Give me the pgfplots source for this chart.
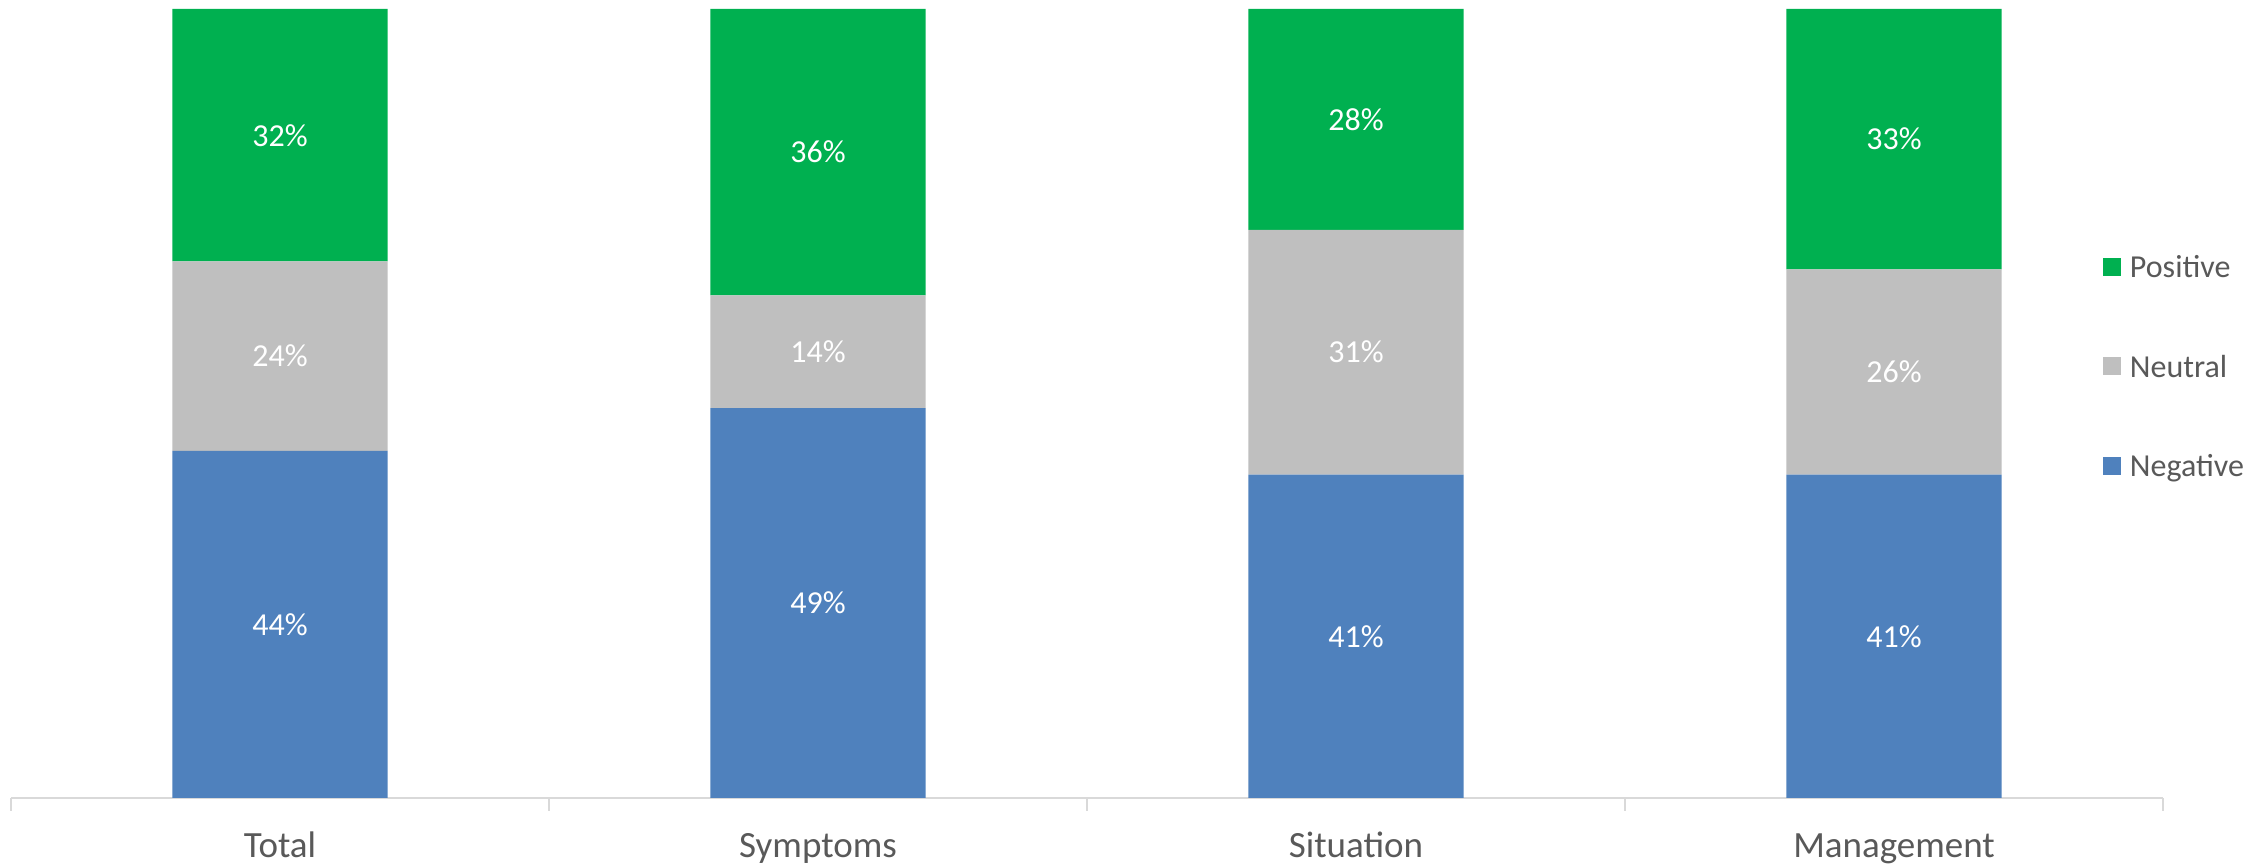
\documentclass[border=0pt]{standalone}
\usepackage{fontspec}
\setmainfont{Carlito}
\usepackage{pgfplots}
\usepackage{pgfplotstable}
\pgfplotsset{compat=1.18}

\definecolor{posgreen}{HTML}{00B050}
\definecolor{neugray}{HTML}{BFBFBF}
\definecolor{negblue}{HTML}{4F81BD}
\definecolor{axisgray}{HTML}{D9D9D9}
\definecolor{textgray}{HTML}{595959}

% share of responses per category, in percent
\pgfplotstableread{
x neg  neu  pos
0 44   24   32
1 49.4 14.3 36.3
2 41   31   28
3 41   26   33
}\sentiment

\pgfplotsset{
  sq legend/.style={legend image code/.code={\fill[##1] (0pt,-4.5pt) rectangle (9pt,4.5pt);}},
  seg labels/.style={
    nodes near coords={\pgfmathprintnumber[fixed,precision=0,assume math mode=true]{\segval}\%},
    visualization depends on={\thisrow{#1}\as\segval},
    every node near coord/.append style={anchor=center, text=white,
      font=\fontsize{16}{19}\selectfont},
  },
}

\begin{document}
\begin{tikzpicture}
\path[use as bounding box] (-5.5pt,-34pt) rectangle (1125pt,399pt);
\begin{axis}[
  at={(0,0)}, anchor=south west,
  scale only axis, width=1076pt, height=394.5pt,
  ybar stacked, bar width=107.5pt,
  xmin=-0.5, xmax=3.5, ymin=0, ymax=100,
  axis y line=none,
  axis x line*=bottom,
  x axis line style={-, axisgray, line width=1pt},
  xtick={0,1,2,3},
  xticklabels={Total,Symptoms,Situation,Management},
  minor xtick={-0.5,0.5,1.5,2.5,3.5},
  major tick length=0pt,
  minor tick length=6.5pt,
  tick align=outside,
  every minor tick/.style={axisgray, line width=1pt},
  xticklabel style={anchor=base, inner sep=0pt, yshift=-30pt,
    font=\fontsize{18.5}{22}\selectfont, text=textgray},
  reverse legend,
  legend cell align=left,
  legend style={at={(0.9721,0.687)}, anchor=north west,
    draw=none, fill=none, inner sep=0pt, outer sep=0pt,
    /tikz/row sep=38.75pt, /tikz/column sep=4.5pt,
    font=\fontsize{16}{19}\selectfont, text=textgray,
    nodes={inner sep=0pt, text height=11pt, text depth=0pt}},
]
\addplot[fill=negblue, draw=none, sq legend, seg labels=neg]
  table[x=x, y=neg]{\sentiment};
\addlegendentry{Negative}
\addplot[fill=neugray, draw=none, sq legend, seg labels=neu]
  table[x=x, y=neu]{\sentiment};
\addlegendentry{Neutral}
\addplot[fill=posgreen, draw=none, sq legend, seg labels=pos]
  table[x=x, y=pos]{\sentiment};
\addlegendentry{Positive}
\end{axis}
\end{tikzpicture}
\end{document}
